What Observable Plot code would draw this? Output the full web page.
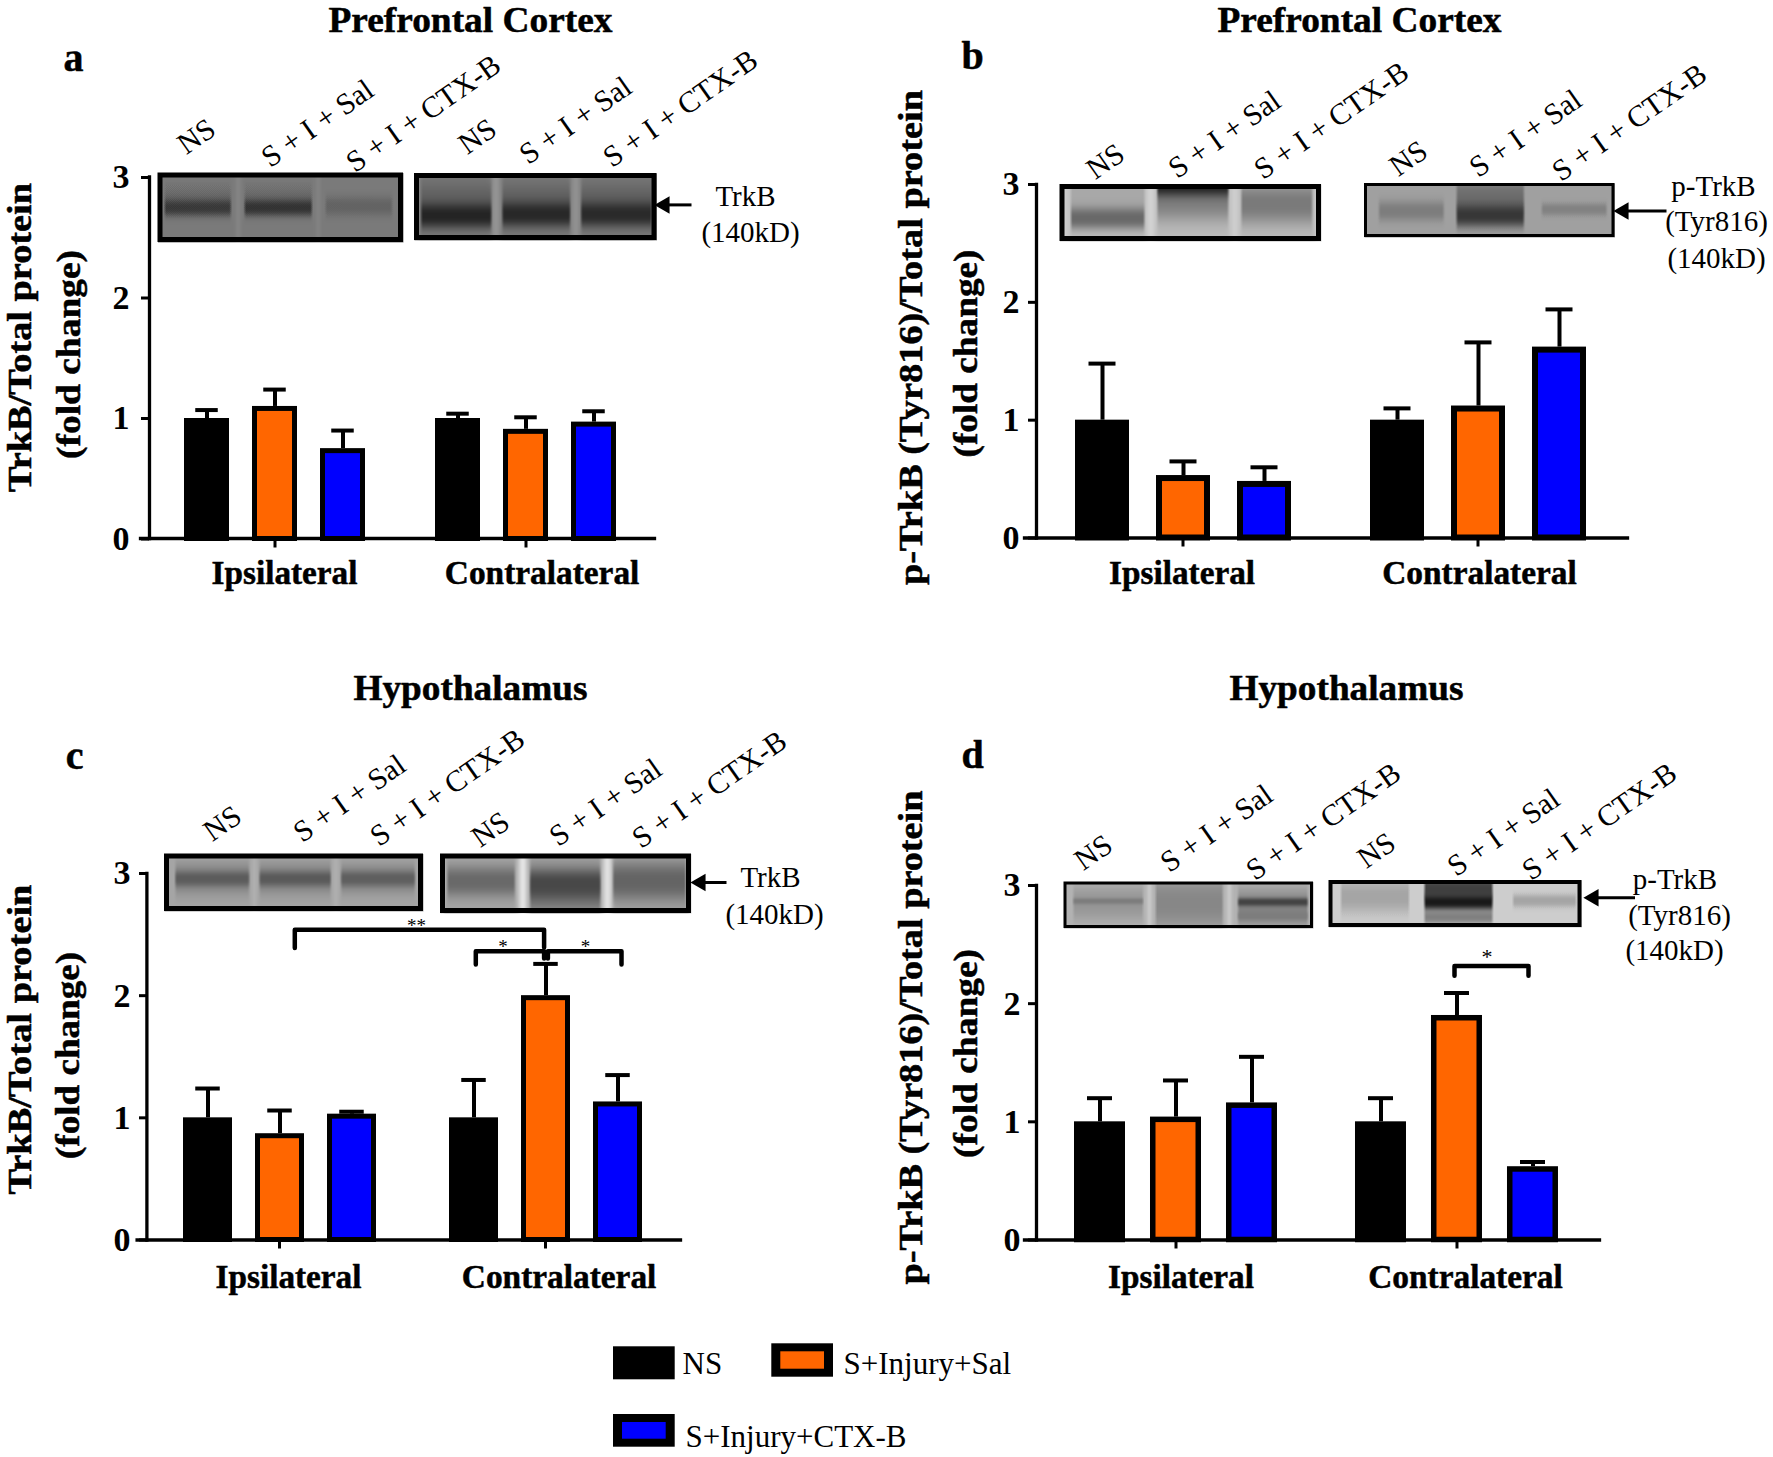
<!DOCTYPE html>
<html>
<head>
<meta charset="utf-8">
<script src="https://cdn.jsdelivr.net/npm/d3@7"></script>
<script src="https://cdn.jsdelivr.net/npm/@observablehq/plot@0.6"></script>
<style>
html,body{margin:0;padding:0;background:#fff}
#fig{position:relative;width:1773px;height:1457px;overflow:hidden}
#fig svg{position:absolute;display:block}
</style>
</head>
<body>
<div id="fig"></div>
<script>
// ---------- chart values ----------
const treatments = ["NS", "S+Injury+Sal", "S+Injury+CTX-B"];
const sides = ["Ipsilateral", "Contralateral"];
const colours = ["#000000", "#FF6600", "#0000FF"];

const valuesA = [1.00, 1.10, 0.75, 1.00, 0.91, 0.97];
const upperA  = [1.07, 1.24, 0.90, 1.04, 1.01, 1.06];
const valuesB = [1.00, 0.53, 0.48, 1.00, 1.12, 1.62];
const upperB  = [1.48, 0.65, 0.60, 1.10, 1.66, 1.94];
const valuesC = [1.00, 0.87, 1.03, 1.00, 2.00, 1.13];
const upperC  = [1.24, 1.06, 1.05, 1.31, 2.26, 1.35];
const valuesD = [1.00, 1.04, 1.16, 1.00, 1.90, 0.62];
const upperD  = [1.20, 1.35, 1.55, 1.20, 2.09, 0.66];
const yTicks = [0, 1, 2, 3];

// ---------- layout of each panel (page pixels) ----------
const panels = [
  {values:valuesA, upper:upperA, c1:274.5, c2:525.5, axisX:149,    y3:176.5, y0:538,    barW:45, step:68.6, sw:5, pad:12, end:654,  start:140},
  {values:valuesB, upper:upperB, c1:1182.5,c2:1478,  axisX:1036,   y3:184,   y0:537.5,  barW:54, step:81,   sw:6, pad:9,  end:1627, start:1024},
  {values:valuesC, upper:upperC, c1:278.6, c2:545.2, axisX:146.4,  y3:873,   y0:1239.5, barW:49, step:72.6, sw:5, pad:9,  end:680,  start:136.6},
  {values:valuesD, upper:upperD, c1:1175.5,c2:1456.7,axisX:1036,   y3:885,   y0:1239.5, barW:52, step:76.9, sw:5.5,pad:8, end:1599, start:1024}
];

const fig = document.getElementById("fig");
const serif = "'Liberation Serif','Times New Roman',serif";

panels.forEach(p => {
  const rows = p.values.map((v, i) => ({
    side: sides[Math.floor(i / 3)],
    treatment: treatments[i % 3],
    value: v,
    upper: p.upper[i]
  }));
  const boxLeft = p.axisX - 70, boxTop = p.y3 - 15, boxBottom = p.y0 + 15;
  const F = 2 * (p.c1 - p.axisX), S = p.c2 - p.c1;
  const fxInner = Math.max(0, 1 - F / S);
  const xInner = 1 - p.barW / p.step;
  const xOuter = (F / p.step - 3 + xInner) / 2;
  const width = p.axisX + F + S + 4 - boxLeft;
  const plot = Plot.plot({
    width,
    height: boxBottom - boxTop,
    marginLeft: 70, marginRight: 4, marginTop: 15, marginBottom: 15,
    style: {fontFamily: serif, background: "transparent", overflow: "visible"},
    fx: {domain: sides, paddingInner: fxInner, paddingOuter: 0, label: null},
    x: {domain: treatments, paddingInner: xInner, paddingOuter: xOuter, axis: null},
    y: {domain: [0, 3], label: null},
    color: {domain: treatments, range: colours},
    marks: [
      Plot.ruleX(rows, {fx: "side", x: "treatment", y1: "value", y2: "upper", stroke: "#000", strokeWidth: 4}),
      Plot.tickY(rows, {fx: "side", x: "treatment", y: "upper", stroke: "#000", strokeWidth: 4,
        insetLeft: p.barW / 4, insetRight: p.barW / 4}),
      Plot.barY(rows, {fx: "side", x: "treatment", y: "value", fill: "treatment", stroke: "#000",
        strokeWidth: p.sw, insetLeft: p.sw / 2, insetRight: p.sw / 2, insetTop: p.sw / 2, insetBottom: 0}),
      Plot.axisY({ticks: yTicks, tickFormat: "d", label: null, tickSize: 8, tickPadding: p.pad,
        stroke: "#000", strokeWidth: 3, fill: "#000", fontSize: 34, fontWeight: "bold"}),
      Plot.axisFx({anchor: "bottom", label: null, tickSize: 9, tickPadding: 0, stroke: "#000", strokeWidth: 3,
        tickFormat: () => ""})
    ]
  });
  plot.style.left = boxLeft + "px";
  plot.style.top = boxTop + "px";
  fig.appendChild(plot);
});

// ---------- annotation layer (text, blots, arrows, brackets, legend) ----------
const bold = "bold", reg = "normal";
// text, x, y, size, weight, rotate, stretched length
const textLabels = [
  ["Prefrontal Cortex",470,20,36,bold,0,284], ["Prefrontal Cortex",1359,20,36,bold,0,284],
  ["Hypothalamus",470,688,36,bold,0,234], ["Hypothalamus",1346,688,36,bold,0,234],
  ["a",73,58,40,bold,0,0], ["b",972,56,40,bold,0,0], ["c",74,756,40,bold,0,0], ["d",972,755,40,bold,0,0],
  ["TrkB/Total protein",20,337,34,bold,-90,309], ["(fold change)",69,354,34,bold,-90,209],
  ["p-TrkB (Tyr816)/Total protein",911,337,34,bold,-90,495], ["(fold change)",966,353,34,bold,-90,208],
  ["TrkB/Total protein",20,1039,34,bold,-90,310], ["(fold change)",68,1055,34,bold,-90,207],
  ["p-TrkB (Tyr816)/Total protein",911,1037,34,bold,-90,494], ["(fold change)",966,1053,34,bold,-90,209],
  ["Ipsilateral",284,573,33,bold,0,146], ["Contralateral",541.6,573,33,bold,0,194.5],
  ["Ipsilateral",1181.6,573,33,bold,0,146], ["Contralateral",1479,573,33,bold,0,194.5],
  ["Ipsilateral",288,1277,33,bold,0,146], ["Contralateral",558.6,1277,33,bold,0,194.5],
  ["Ipsilateral",1180.5,1277,33,bold,0,146], ["Contralateral",1465,1277,33,bold,0,194.5],
  ["NS",196,136,30,reg,-35,0], ["S + I + Sal",317,123,30,reg,-35,0], ["S + I + CTX-B",423,113,30,reg,-35,0],
  ["NS",477,136,30,reg,-35,0], ["S + I + Sal",575,120,30,reg,-35,0], ["S + I + CTX-B",680,108,30,reg,-35,0],
  ["NS",1105,161,30,reg,-35,0], ["S + I + Sal",1224,134,30,reg,-35,0], ["S + I + CTX-B",1331,120,30,reg,-35,0],
  ["NS",1408,158,30,reg,-35,0], ["S + I + Sal",1525,133,30,reg,-35,0], ["S + I + CTX-B",1629,122,30,reg,-35,0],
  ["NS",222,823,30,reg,-35,0], ["S + I + Sal",349,798,30,reg,-35,0], ["S + I + CTX-B",447,787,30,reg,-35,0],
  ["NS",490,829,30,reg,-35,0], ["S + I + Sal",605,802,30,reg,-35,0], ["S + I + CTX-B",709,789,30,reg,-35,0],
  ["NS",1093,852,30,reg,-35,0], ["S + I + Sal",1216,828,30,reg,-35,0], ["S + I + CTX-B",1323,821,30,reg,-35,0],
  ["NS",1376,850,30,reg,-35,0], ["S + I + Sal",1503,832,30,reg,-35,0], ["S + I + CTX-B",1599,821,30,reg,-35,0],
  ["TrkB",745,196.5,29,reg,0,0], ["(140kD)",750,232,29,reg,0,0],
  ["p-TrkB",1713,186.6,29,reg,0,0], ["(Tyr816)",1716,221,29,reg,0,0], ["(140kD)",1716,258,29,reg,0,0],
  ["TrkB",770,877,29,reg,0,0], ["(140kD)",774,914,29,reg,0,0],
  ["p-TrkB",1674.4,879.4,29,reg,0,0], ["(Tyr816)",1679,915,29,reg,0,0], ["(140kD)",1674,950.4,29,reg,0,0],
  ["**",416,925,19,reg,0,0], ["*",502.4,946,19,reg,0,0], ["*",585,946,19,reg,0,0], ["*",1486.5,956,22,reg,0,0]
].map(([text,x,y,size,weight,rotate,len]) => ({text,x,y,size,weight,rotate,len}));

const startLabels = [
  ["NS",682,1364,31], ["S+Injury+Sal",843,1364,31], ["S+Injury+CTX-B",685,1437,31]
].map(([text,x,y,size]) => ({text,x,y,size}));

// blot band profiles: band = [centre, spread, grey]; lane = [from, to, bands, stipple]; separators = [at, half width, grey]
const blots = [
  {x1:157.5,x2:403,y1:172.5,y2:242,bw:5,bg:122,seps:[[.325,3,132],[.65,3,130]],
   lanes:[[.02,.30,[[.38,.20,105],[.49,.12,58]],1],[.345,.63,[[.38,.20,105],[.49,.12,52]],1],[.675,.957,[[.47,.14,100]],1]]},
  {x1:414,x2:656.5,y1:173,y2:240,bw:5,bg:122,seps:[[.334,5,148],[.663,5,145],[.004,3,150],[.996,3,150]],
   lanes:[[.02,.32,[[.45,.33,95],[.62,.18,36]],0],[.355,.645,[[.45,.32,95],[.60,.18,40]],0],[.68,.98,[[.45,.32,95],[.60,.18,42]],0]]},
  {x1:1059.5,x2:1321,y1:184,y2:241,bw:5,bg:188,seps:[[.345,5,210],[.666,5,205],[.01,6,205],[.99,4,210]],
   lanes:[[.035,.326,[[.15,.40,168],[.58,.20,105]],0],[.365,.647,[[.25,.38,125],[.0,.20,32]],0],[.686,.968,[[.33,.36,122]],0]]},
  {x1:1364,x2:1614.5,y1:183,y2:237,bw:3,bg:160,seps:[],
   lanes:[[.05,.32,[[.50,.19,125]],1],[.36,.64,[[.25,.36,110],[.58,.22,55]],1],[.70,.97,[[.47,.12,130]],1]]},
  {x1:164,x2:423,y1:853.5,y2:911,bw:5,bg:165,seps:[[.345,3,175],[.66,3,175]],
   lanes:[[.035,.33,[[.42,.28,130],[.42,.13,92]],0],[.36,.645,[[.42,.28,130],[.42,.13,90]],0],[.675,.97,[[.42,.26,130],[.42,.13,95]],0]]},
  {x1:440,x2:691,y1:853.5,y2:913,bw:5,bg:165,seps:[[.326,5,228],[.663,5,225],[.005,2,215],[.995,2,215]],
   lanes:[[.02,.30,[[.45,.26,105]],0],[.35,.64,[[.58,.40,105],[.50,.22,72]],0],[.68,.98,[[.45,.33,100]],0]]},
  {x1:1063.5,x2:1313,y1:881.5,y2:928,bw:3,bg:178,seps:[[.34,3,200],[.66,3,200]],
   lanes:[[.03,.32,[[.45,.36,150],[.40,.07,125]],0],[.36,.64,[[.45,.55,135]],0],[.69,.98,[[.55,.40,130],[.42,.09,68],[.72,.09,125]],0]]},
  {x1:1328.5,x2:1581.5,y1:880,y2:927,bw:4,bg:205,seps:[],
   lanes:[[.04,.32,[[.33,.36,165]],1],[.37,.65,[[.15,.26,65],[.78,.14,130],[.45,.18,25]],0],[.72,.98,[[.42,.14,165]],1]]}
];

function blotImage(b) {
  const w = Math.round(b.x2 - b.x1), h = Math.round(b.y2 - b.y1);
  const cv = document.createElement("canvas");
  cv.width = w; cv.height = h;
  const g = cv.getContext("2d"), im = g.createImageData(w, h);
  for (let j = 0; j < h; j++) for (let i = 0; i < w; i++) {
    const fy = j / h;
    let v = b.bg;
    for (const [at, hw, grey] of b.seps) {
      const a = Math.exp(-Math.pow((i - at * w) / hw, 2));
      v += (grey - v) * a;
    }
    for (const [from, to, bands, stip] of b.lanes) {
      const edge = Math.min(1, Math.max(0, (i - from * w) / 3)) * Math.min(1, Math.max(0, (to * w - i) / 3));
      if (edge <= 0) continue;
      for (const [c, s, grey] of bands) {
        const a = edge * Math.exp(-Math.pow(Math.abs(fy - c) / s, 2.5));
        v += (grey - v) * a;
        if (stip && a > .3) v += ((i + j) % 2 ? 5 : -5);
      }
    }
    const k = (j * w + i) * 4;
    im.data[k] = im.data[k + 1] = im.data[k + 2] = v;
    im.data[k + 3] = 255;
  }
  g.putImageData(im, 0, 0);
  return {src: cv.toDataURL(), x: (b.x1 + b.x2) / 2, y: (b.y1 + b.y2) / 2, w: b.x2 - b.x1, h: b.y2 - b.y1};
}

// brackets: polyline per row
const brackets = [
  [[294.3,947.6],[294.3,929.2],[543.6,929.2],[543.6,947]],
  [[475.3,964],[475.3,950.8],[543.6,950.8],[543.6,958]],
  [[547.4,958],[547.4,950.8],[621,950.8],[621,964]],
  [[1454,975.3],[1454,965.5],[1528,965.5],[1528,975.3]]
];
const pointers = [
  {x1:691,x2:664,y:204.4,tip:664},
  {x1:1666,x2:1622,y:210.4,tip:1623},
  {x1:726,x2:700,y:882,tip:700},
  {x1:1634.5,x2:1594,y:897.3,tip:1593}
];
const swatches = [
  {x1:613,x2:674.7,y1:1346.3,y2:1379.3,outer:"#000",inner:"#000"},
  {x1:771.3,x2:833,y1:1343.3,y2:1376.7,outer:"#000",inner:"#FF6600"},
  {x1:613,x2:674.7,y1:1414,y2:1446.7,outer:"#000",inner:"#0000FF"}
];

const axisLines = panels.flatMap(p => [
  {x1:p.axisX,y1:p.y3,x2:p.axisX,y2:p.y0},
  {x1:p.start,y1:p.y0,x2:p.end,y2:p.y0}
]);

const annotation = Plot.plot({
  width: 1773, height: 1457, margin: 0,
  x: {type: "identity", axis: null}, y: {type: "identity", axis: null},
  style: {fontFamily: serif, background: "transparent", color: "#000"},
  marks: [
    Plot.image(blots.map(blotImage), {x: "x", y: "y", src: "src", width: "w", height: "h", preserveAspectRatio: "none"}),
    Plot.rect(blots, {x1: d => d.x1 + d.bw / 2, x2: d => d.x2 - d.bw / 2, y1: d => d.y1 + d.bw / 2, y2: d => d.y2 - d.bw / 2,
      fill: "none", stroke: "#000", strokeWidth: d => d.bw}),
    Plot.link(axisLines, {x1: "x1", y1: "y1", x2: "x2", y2: "y2", stroke: "#000", strokeWidth: 3.3, strokeLinecap: "square"}),
    ...brackets.map(b => Plot.line(b, {x: d => d[0], y: d => d[1], stroke: "#000", strokeWidth: 4.5, curve: "linear"})),
    Plot.link(pointers, {x1: "x1", y1: "y", x2: "x2", y2: "y", stroke: "#000", strokeWidth: 3}),
    Plot.dot(pointers, {x: "tip", y: "y", symbol: "triangle", rotate: -90, r: 6.5, fill: "#000", stroke: "none"}),
    Plot.rect(swatches, {x1: "x1", x2: "x2", y1: "y1", y2: "y2", fill: "outer"}),
    Plot.rect(swatches, {x1: d => d.x1 + 9, x2: d => d.x2 - 9, y1: d => d.y1 + 8, y2: d => d.y2 - 8, fill: "inner"}),
    ...textLabels.map(l => Plot.text([l], {x: "x", y: "y", text: "text", fontSize: l.size, fontWeight: l.weight,
      rotate: l.rotate, textAnchor: "middle", lineAnchor: "middle", fill: "#000",
      stroke: l.weight === bold ? "#000" : "none", strokeWidth: l.weight === bold ? 0.5 : 0})),
    ...startLabels.map(l => Plot.text([l], {x: "x", y: "y", text: "text", fontSize: l.size,
      textAnchor: "start", lineAnchor: "middle", fill: "#000"}))
  ]
});
annotation.style.left = "0px";
annotation.style.top = "0px";
fig.appendChild(annotation);

// stretch the wide labels along their baseline to their measured lengths
const nodes = annotation.querySelectorAll("text");
textLabels.forEach((l, i) => {
  if (l.len) {
    nodes[i].setAttribute("textLength", l.len);
    nodes[i].setAttribute("lengthAdjust", "spacingAndGlyphs");
  }
});
</script>
</body>
</html>
